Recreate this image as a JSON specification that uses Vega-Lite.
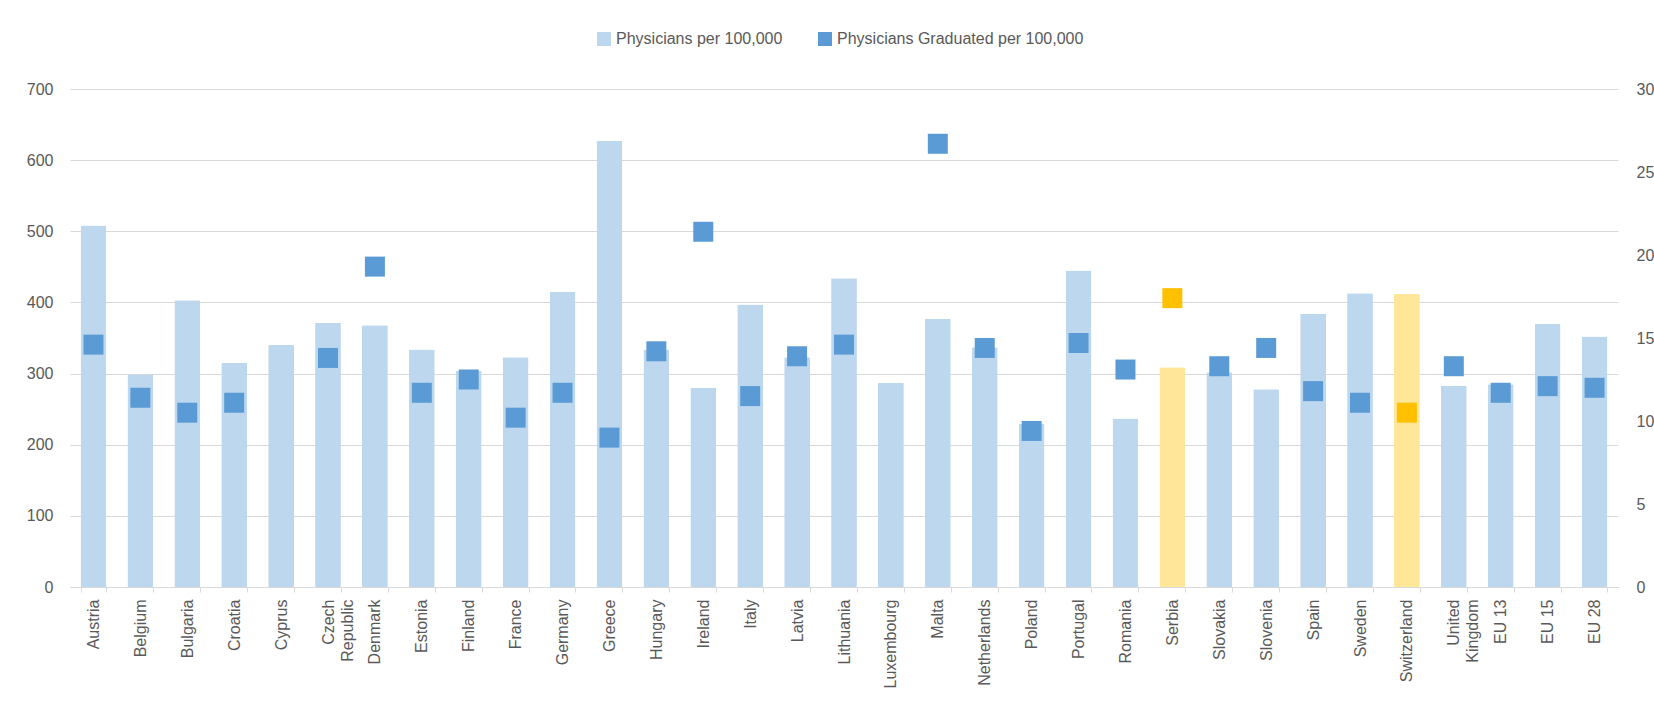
{
  "$schema": "https://vega.github.io/schema/vega-lite/v6.json",
  "autosize": {"type": "none"},
  "width": 1548,
  "height": 498,
  "padding": {"left": 70, "top": 89, "right": 36, "bottom": 118},
  "background": "white",
  "config": {
    "view": {"stroke": null},
    "font": "Liberation Sans",
    "axis": {"labelFont": "Liberation Sans", "labelFontSize": 16, "labelColor": "#595959"},
    "legend": {"labelFont": "Liberation Sans", "labelFontSize": 16, "labelColor": "#595959", "labelLimit": 500}
  },
  "data": {
    "values": [
      {"country": "Austria", "physicians": 508, "graduates": 14.6},
      {"country": "Belgium", "physicians": 299, "graduates": 11.4},
      {"country": "Bulgaria", "physicians": 403, "graduates": 10.5},
      {"country": "Croatia", "physicians": 315, "graduates": 11.1},
      {"country": "Cyprus", "physicians": 340, "graduates": null},
      {"country": "Czech Republic", "physicians": 371, "graduates": 13.8},
      {"country": "Denmark", "physicians": 368, "graduates": 19.3},
      {"country": "Estonia", "physicians": 334, "graduates": 11.7},
      {"country": "Finland", "physicians": 304, "graduates": 12.5},
      {"country": "France", "physicians": 323, "graduates": 10.2},
      {"country": "Germany", "physicians": 415, "graduates": 11.7},
      {"country": "Greece", "physicians": 627, "graduates": 9.0},
      {"country": "Hungary", "physicians": 334, "graduates": 14.2},
      {"country": "Ireland", "physicians": 280, "graduates": 21.4},
      {"country": "Italy", "physicians": 397, "graduates": 11.5},
      {"country": "Latvia", "physicians": 323, "graduates": 13.9},
      {"country": "Lithuania", "physicians": 434, "graduates": 14.6},
      {"country": "Luxembourg", "physicians": 287, "graduates": null},
      {"country": "Malta", "physicians": 377, "graduates": 26.7},
      {"country": "Netherlands", "physicians": 337, "graduates": 14.4},
      {"country": "Poland", "physicians": 229, "graduates": 9.4},
      {"country": "Portugal", "physicians": 445, "graduates": 14.7},
      {"country": "Romania", "physicians": 237, "graduates": 13.1},
      {"country": "Serbia", "physicians": 309, "graduates": 17.4},
      {"country": "Slovakia", "physicians": 302, "graduates": 13.3},
      {"country": "Slovenia", "physicians": 278, "graduates": 14.4},
      {"country": "Spain", "physicians": 384, "graduates": 11.8},
      {"country": "Sweden", "physicians": 413, "graduates": 11.1},
      {"country": "Switzerland", "physicians": 412, "graduates": 10.5},
      {"country": "United Kingdom", "physicians": 283, "graduates": 13.3},
      {"country": "EU 13", "physicians": 285, "graduates": 11.7},
      {"country": "EU 15", "physicians": 370, "graduates": 12.1},
      {"country": "EU 28", "physicians": 352, "graduates": 12.0}
    ]
  },
  "encoding": {
    "x": {
      "field": "country",
      "type": "nominal",
      "sort": null,
      "title": null,
      "scale": {"paddingInner": 0.45, "paddingOuter": 0.225},
      "axis": {
        "labelAngle": -90,
        "tickBand": "extent",
        "ticks": true,
        "tickSize": 5,
        "tickColor": "#D9D9D9",
        "domainColor": "#D9D9D9",
        "domainWidth": 1,
        "labelPadding": 7,
        "labelLineHeight": 19,
        "labelExpr": "datum.label == 'Czech Republic' ? ['Czech', 'Republic'] : datum.label == 'United Kingdom' ? ['United', 'Kingdom'] : datum.label"
      }
    }
  },
  "layer": [
    {
      "mark": {"type": "bar", "cornerRadius": 1},
      "encoding": {
        "y": {
          "field": "physicians",
          "type": "quantitative",
          "title": null,
          "scale": {"domain": [0, 700]},
          "axis": {
            "orient": "left",
            "values": [0, 100, 200, 300, 400, 500, 600, 700],
            "grid": true,
            "gridColor": "#D9D9D9",
            "gridWidth": 1,
            "domain": false,
            "ticks": false,
            "labelPadding": 17
          }
        },
        "color": {
          "condition": {"test": "datum.country === 'Serbia' || datum.country === 'Switzerland'", "value": "#FFE699"},
          "datum": "Physicians per 100,000",
          "type": "nominal",
          "scale": {
            "domain": ["Physicians per 100,000", "Physicians Graduated per 100,000"],
            "range": ["#BDD7EE", "#5B9BD5"]
          },
          "legend": {
            "title": null,
            "orient": "none",
            "direction": "horizontal",
            "legendX": 526,
            "legendY": -58,
            "symbolType": "square",
            "symbolSize": 196,
            "symbolStrokeWidth": 0,
            "labelOffset": 4,
            "labelLimit": 500,
            "columnPadding": 34
          }
        }
      }
    },
    {
      "mark": {"type": "square", "size": 400, "opacity": 1, "filled": true},
      "encoding": {
        "y": {
          "field": "graduates",
          "type": "quantitative",
          "title": null,
          "scale": {"domain": [0, 30]},
          "axis": {
            "orient": "right",
            "values": [0, 5, 10, 15, 20, 25, 30],
            "grid": false,
            "domain": false,
            "ticks": false,
            "labelPadding": 18
          }
        },
        "color": {
          "condition": {"test": "datum.country === 'Serbia' || datum.country === 'Switzerland'", "value": "#FFC000"},
          "datum": "Physicians Graduated per 100,000",
          "type": "nominal"
        }
      }
    }
  ],
  "resolve": {"scale": {"y": "independent"}}
}
